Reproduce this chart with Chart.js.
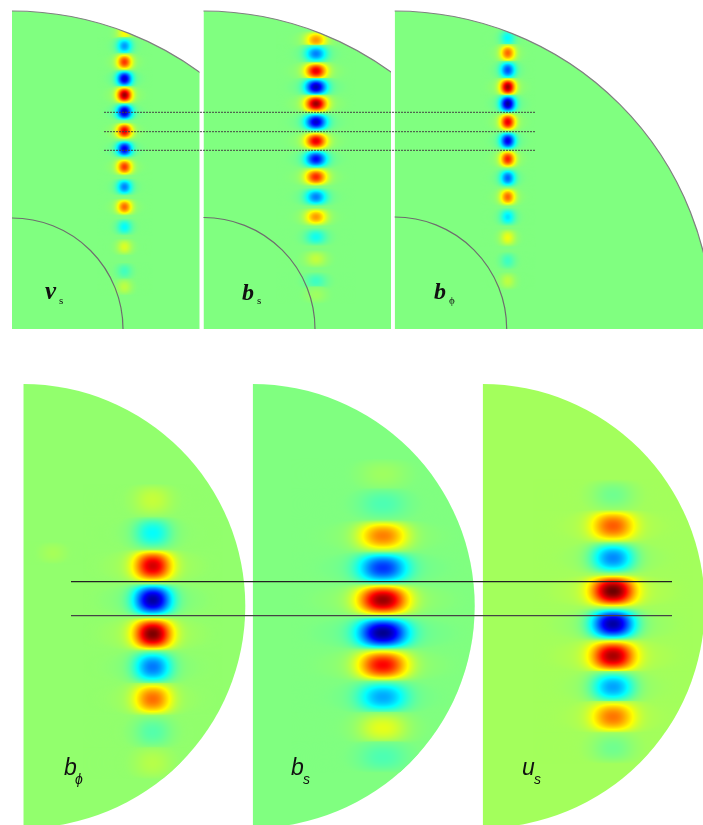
<!DOCTYPE html>
<html>
<head>
<meta charset="utf-8">
<title>Field patterns</title>
<script src="https://cdn.jsdelivr.net/npm/chart.js@4"></script>
<style>
    html, body { margin: 0; padding: 0; background: #fff; }
    canvas { display: block; }
</style>
</head>
<body>
<canvas id="fieldChart" width="703" height="825"></canvas>
<script>
// Cell centres (y, in picture units) and signed amplitudes (-1..1)
const topVsY = [33, 46, 62, 78.7, 95, 112, 131, 149, 167, 187, 207, 227, 247, 271, 287];
const topVsAmp = [0.25, -0.45, 0.65, -0.85, 0.95, -0.9, 0.8, -0.8, 0.65, -0.5, 0.55, -0.25, 0.18, -0.12, 0.12];

const topBsY = [40, 53.7, 71, 87, 103.7, 122, 141, 159, 177, 197, 217, 237, 259, 281, 295];
const topBsAmp = [0.45, -0.5, 0.8, -0.9, 0.95, -0.85, 0.8, -0.75, 0.68, -0.5, 0.45, -0.22, 0.13, -0.13, 0.06];

const topBphiY = [38, 53, 70, 87, 103.7, 122, 140.7, 159, 178, 197, 217, 237.7, 260.7, 281];
const topBphiAmp = [-0.25, 0.55, -0.6, 0.95, -0.95, 0.8, -0.8, 0.7, -0.55, 0.55, -0.3, 0.22, -0.13, 0.12];

const lowBphiY = [500, 533, 566, 600, 634, 667, 699, 732, 763];
const lowBphiAmp = [0.1, -0.28, 0.8, -0.97, 0.97, -0.55, 0.5, -0.12, 0.07];

const lowBsY = [474, 504, 536, 568, 600, 633, 665, 697, 728, 757];
const lowBsAmp = [0.06, -0.1, 0.5, -0.65, 0.95, -0.97, 0.75, -0.42, 0.2, -0.1];

const lowUsY = [495, 526, 558, 591, 624, 656, 687, 717, 748];
const lowUsAmp = [-0.1, 0.5, -0.55, 0.97, -1, 0.85, -0.5, 0.45, -0.1];

// Faint patches left of the column in the lower b-phi panel
const faintX = [53, 108];
const faintY = [553, 598];
const faintAmp = [0.04, 0.04];

// Horizontal reference lines
const dottedLineY = [112.3, 131.7, 150.3];
const dottedLineX = [104, 535];
const solidLineY = [581.7, 615.7];
const solidLineX = [71, 672];

// Panel geometry and blob shape, kept apart from the values above
const panels = [
    { ys: topVsY, amps: topVsAmp, column: 124.5, left: 12, right: 199.5, top: 11, bottom: 329, cy: 329, radius: 318, inner: 111, sigma: 7, cell: 17.5, zero: 0.5, waveP: 1, edgeP: 2, side: 0.06 },
    { ys: topBsY, amps: topBsAmp, column: 316, left: 203.5, right: 391, top: 11, bottom: 329, cy: 329, radius: 318, inner: 111.5, sigma: 10, cell: 18.5, zero: 0.5, waveP: 1, edgeP: 2, side: 0.06 },
    { ys: topBphiY, amps: topBphiAmp, column: 507.7, left: 394.7, right: 703, top: 11, bottom: 329, cy: 329, radius: 318, inner: 112, sigma: 7, cell: 18.5, zero: 0.5, waveP: 1, edgeP: 2, side: 0.06 },
    { ys: lowBphiY, amps: lowBphiAmp, column: 152.7, left: 23.3, right: 246, top: 384, bottom: 825, cy: 606, radius: 222, sigma: 17.5, cell: 33, zero: 0.518, waveP: 0.85, edgeP: 2.2, side: 0.07 },
    { ys: lowBsY, amps: lowBsAmp, column: 383, left: 252.7, right: 476, top: 384, bottom: 825, cy: 606, radius: 222, sigma: 23, cell: 32, zero: 0.5, waveP: 0.85, edgeP: 2.2, side: 0.07 },
    { ys: lowUsY, amps: lowUsAmp, column: 613, left: 482.7, right: 703, top: 384, bottom: 825, cy: 606, radius: 222, sigma: 20, cell: 32, zero: 0.535, waveP: 0.85, edgeP: 2.2, side: 0.07 }
];
const faintShapes = [
    { sigma: 13, cell: 24, zero: 0.518, waveP: 1, edgeP: 2, side: 0 },
    { sigma: 4, cell: 22, zero: 0.518, waveP: 1, edgeP: 2, side: 0 }
];

// Panel captions: main letter then subscript
const captions = [
    { text: 'v', x: 45, y: 299, font: 'italic bold 25px "Liberation Serif"' },
    { text: 's', x: 59, y: 304, font: '11px "Liberation Serif"' },
    { text: 'b', x: 242, y: 300, font: 'italic bold 24px "Liberation Serif"' },
    { text: 's', x: 257, y: 304, font: '11px "Liberation Serif"' },
    { text: 'b', x: 434, y: 299, font: 'italic bold 24px "Liberation Serif"' },
    { text: 'ϕ', x: 449, y: 304, font: '11px "Liberation Serif"' },
    { text: 'b', x: 64, y: 775, font: 'italic 23px "Liberation Sans"' },
    { text: 'ϕ', x: 75, y: 784, font: 'italic 14px "Liberation Sans"' },
    { text: 'b', x: 291, y: 775, font: 'italic 23px "Liberation Sans"' },
    { text: 's', x: 303, y: 784, font: 'italic 14px "Liberation Sans"' },
    { text: 'u', x: 522, y: 775, font: 'italic 23px "Liberation Sans"' },
    { text: 's', x: 534, y: 784, font: 'italic 14px "Liberation Sans"' }
];

// Jet colormap, t in 0..1
function jet(t) {

    const band = (c) => Math.round(255 * Math.min(1, Math.max(0, 1.5 - Math.abs(4 * t - c))));
    return [band(3), band(2), band(1)];
}

// One half wave in y with a soft envelope in x, painted pixel by pixel
function makeBlob(amp, shape) {

    const halfW = Math.ceil(shape.sigma * 4);
    const halfH = Math.ceil(shape.cell / 2);
    const sprite = document.createElement('canvas');
    sprite.width = halfW * 2;
    sprite.height = halfH * 2;

    const sctx = sprite.getContext('2d');
    const img = sctx.createImageData(sprite.width, sprite.height);

    for (let j = 0; j < sprite.height; j++) {

        for (let i = 0; i < sprite.width; i++) {

            const dx = (i + 0.5 - halfW) / shape.sigma;
            const dy = (j + 0.5 - halfH) / shape.cell;
            const wave = Math.abs(dy) < 0.5 ? Math.pow(Math.cos(Math.PI * dy), shape.waveP) : 0;
            const envelope = (1 - shape.side) * Math.exp(-Math.pow(Math.abs(dx), shape.edgeP)) + shape.side * Math.exp(-dx * dx / 5);
            const v = amp * wave * envelope;
            const rgb = jet(shape.zero + v / 2);
            const k = (j * sprite.width + i) * 4;

            img.data[k] = rgb[0];
            img.data[k + 1] = rgb[1];
            img.data[k + 2] = rgb[2];
            img.data[k + 3] = Math.round(255 * Math.min(1, Math.abs(v) / 0.012));
        }
    }
    sctx.putImageData(img, 0, 0);
    return sprite;
}

// Sector of a disc cut to the panel box
function sectorPath(ctx, chart, panel) {

    const x = chart.scales.x;
    const y = chart.scales.y;
    const cx = x.getPixelForValue(panel.left);
    const cy = y.getPixelForValue(panel.cy);
    const r = x.getPixelForValue(panel.radius) - x.getPixelForValue(0);

    ctx.beginPath();
    ctx.rect(cx, y.getPixelForValue(panel.top), x.getPixelForValue(panel.right) - cx, y.getPixelForValue(panel.bottom) - y.getPixelForValue(panel.top));
    ctx.clip();
    ctx.beginPath();
    ctx.moveTo(cx, cy);
    ctx.arc(cx, cy, r, -Math.PI / 2, Math.PI / 2);
    ctx.closePath();
}

// Draws the panel discs under the marks and the rims and captions over them
const discPlugin = {

    id: 'discs',

    beforeDatasetsDraw(chart) {

        const ctx = chart.ctx;
        panels.forEach(panel => {

            const rgb = jet(panel.zero);
            ctx.save();
            sectorPath(ctx, chart, panel);
            ctx.fillStyle = `rgb(${rgb[0]}, ${rgb[1]}, ${rgb[2]})`;
            ctx.fill();
            ctx.restore();
        });
    },

    beforeDatasetDraw(chart, args) {

        const panel = chart.data.datasets[args.index].panel;
        if (panel) {

            chart.ctx.save();
            sectorPath(chart.ctx, chart, panel);
            chart.ctx.clip();
        }
    },

    afterDatasetDraw(chart, args) {

        if (chart.data.datasets[args.index].panel) {

            chart.ctx.restore();
        }
    },

    afterDatasetsDraw(chart) {

        const ctx = chart.ctx;
        const x = chart.scales.x;
        const y = chart.scales.y;
        const unit = x.getPixelForValue(1) - x.getPixelForValue(0);

        panels.forEach(panel => {

            if (!panel.inner) {

                return;
            }
            const cx = x.getPixelForValue(panel.left);
            const cy = y.getPixelForValue(panel.cy);

            ctx.save();
            ctx.beginPath();
            ctx.rect(cx - 2, 0, x.getPixelForValue(panel.right) - cx + 2, y.getPixelForValue(panel.bottom));
            ctx.clip();
            ctx.lineWidth = 1.2;
            ctx.strokeStyle = '#808080';
            ctx.beginPath();
            ctx.arc(cx, cy, panel.radius * unit, -Math.PI / 2, 0);
            ctx.stroke();
            ctx.strokeStyle = '#6e6e6e';
            ctx.beginPath();
            ctx.arc(cx, cy, panel.inner * unit, -Math.PI / 2, 0);
            ctx.stroke();
            ctx.restore();
        });

        ctx.save();
        ctx.fillStyle = '#111';
        ctx.textBaseline = 'alphabetic';
        captions.forEach(c => {

            ctx.font = c.font;
            ctx.fillText(c.text, x.getPixelForValue(c.x), y.getPixelForValue(c.y));
        });
        ctx.restore();
    }
};

// Line datasets come first so they draw on top of the blobs
const lineSets = [];

dottedLineY.forEach(level => {

    lineSets.push({
        type: 'line',
        data: dottedLineX.map(x => ({ x: x, y: level })),
        borderColor: '#444',
        borderWidth: 1,
        borderDash: [2, 1],
        pointRadius: 0
    });
});

solidLineY.forEach((level, i) => {

    lineSets.push({
        type: 'line',
        data: solidLineX.map(x => ({ x: x, y: level })),
        borderColor: i === 0 ? '#222' : '#444',
        borderWidth: 1.3,
        pointRadius: 0
    });
});

const blobSets = panels.map(panel => {

    const sprites = panel.amps.map(amp => makeBlob(amp, panel));
    return {
        panel: panel,
        data: panel.ys.map(y => ({ x: panel.column, y: y })),
        pointStyle: (ctx) => sprites[ctx.dataIndex],
        pointRadius: 3,
        showLine: false
    };
});

const faintSprites = faintAmp.map((amp, i) => makeBlob(amp, faintShapes[i]));
const faintSet = {
    panel: panels[3],
    data: faintX.map((x, i) => ({ x: x, y: faintY[i] })),
    pointStyle: (ctx) => faintSprites[ctx.dataIndex],
    pointRadius: 3,
    showLine: false
};

new Chart(document.getElementById('fieldChart'), {

    type: 'scatter',
    data: { datasets: lineSets.concat(blobSets, [faintSet]) },
    plugins: [discPlugin],
    options: {

        responsive: false,
        animation: false,
        events: [],
        layout: { padding: 0, autoPadding: false },
        plugins: {

            legend: { display: false },
            tooltip: { enabled: false }
        },
        scales: {

            x: { type: 'linear', min: 0, max: 703, display: false },
            y: { type: 'linear', min: 0, max: 825, reverse: true, display: false }
        }
    }
});
</script>
</body>
</html>
